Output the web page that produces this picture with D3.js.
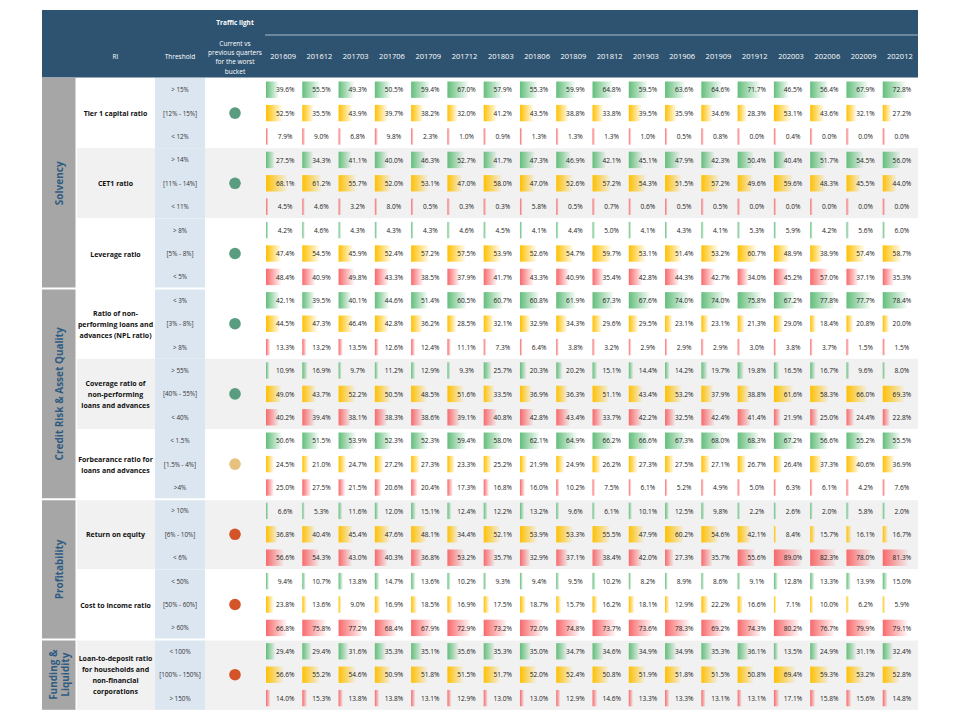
<!DOCTYPE html>
<html>
<head>
<meta charset="utf-8" />
<title>Risk indicators</title>
<script src="https://cdn.jsdelivr.net/npm/d3@7"></script>
<style>
  body { margin: 0; background: #fff; }
  text { font-family: "Open Sans", "Liberation Sans", sans-serif; }
</style>
</head>
<body>
<div id="bg"></div>
<script>
// periods
var periods = ["201609","201612","201703","201706","201709","201712","201803","201806","201809","201812",
  "201903","201906","201909","201912","202003","202006","202009","202012"];

var categories = [
  { name: ["Solvency"], n: 3 },
  { name: ["Credit Risk & Asset Quality"], n: 3 },
  { name: ["Profitability"], n: 2 },
  { name: ["Funding &", "Liquidity"], n: 1 }
];

var indicators = [
  ["Tier 1 capital ratio"],
  ["CET1 ratio"],
  ["Leverage ratio"],
  ["Ratio of non-", "performing loans and", "advances (NPL ratio)"],
  ["Coverage ratio of", "non-performing", "loans and advances"],
  ["Forbearance ratio for", "loans and advances"],
  ["Return on equity"],
  ["Cost to income ratio"],
  ["Loan-to-deposit ratio", "for households and", "non-financial", "corporations"]
];

var thresholds = [
  ["> 15%", "[12% - 15%]", "< 12%"],
  ["> 14%", "[11% - 14%]", "< 11%"],
  ["> 8%", "[5% - 8%]", "< 5%"],
  ["< 3%", "[3% - 8%]", "> 8%"],
  ["> 55%", "[40% - 55%]", "< 40%"],
  ["< 1.5%", "[1.5% - 4%]", ">4%"],
  ["> 10%", "[6% - 10%]", "< 6%"],
  ["< 50%", "[50% - 60%]", "> 60%"],
  ["< 100%", "[100% - 150%]", "> 150%"]
];

var lights = ["green","green","green","green","green","amber","red","red","red"];

// bucket values: [indicator][bucket][period]
var values = [
  [[39.6,55.5,49.3,50.5,59.4,67.0,57.9,55.3,59.9,64.8,59.5,63.6,64.6,71.7,46.5,56.4,67.9,72.8],
   [52.5,35.5,43.9,39.7,38.2,32.0,41.2,43.5,38.8,33.8,39.5,35.9,34.6,28.3,53.1,43.6,32.1,27.2],
   [7.9,9.0,6.8,9.8,2.3,1.0,0.9,1.3,1.3,1.3,1.0,0.5,0.8,0.0,0.4,0.0,0.0,0.0]],
  [[27.5,34.3,41.1,40.0,46.3,52.7,41.7,47.3,46.9,42.1,45.1,47.9,42.3,50.4,40.4,51.7,54.5,56.0],
   [68.1,61.2,55.7,52.0,53.1,47.0,58.0,47.0,52.6,57.2,54.3,51.5,57.2,49.6,59.6,48.3,45.5,44.0],
   [4.5,4.6,3.2,8.0,0.5,0.3,0.3,5.8,0.5,0.7,0.6,0.5,0.5,0.0,0.0,0.0,0.0,0.0]],
  [[4.2,4.6,4.3,4.3,4.3,4.6,4.5,4.1,4.4,5.0,4.1,4.3,4.1,5.3,5.9,4.2,5.6,6.0],
   [47.4,54.5,45.9,52.4,57.2,57.5,53.9,52.6,54.7,59.7,53.1,51.4,53.2,60.7,48.9,38.9,57.4,58.7],
   [48.4,40.9,49.8,43.3,38.5,37.9,41.7,43.3,40.9,35.4,42.8,44.3,42.7,34.0,45.2,57.0,37.1,35.3]],
  [[42.1,39.5,40.1,44.6,51.4,60.5,60.7,60.8,61.9,67.3,67.6,74.0,74.0,75.8,67.2,77.8,77.7,78.4],
   [44.5,47.3,46.4,42.8,36.2,28.5,32.1,32.9,34.3,29.6,29.5,23.1,23.1,21.3,29.0,18.4,20.8,20.0],
   [13.3,13.2,13.5,12.6,12.4,11.1,7.3,6.4,3.8,3.2,2.9,2.9,2.9,3.0,3.8,3.7,1.5,1.5]],
  [[10.9,16.9,9.7,11.2,12.9,9.3,25.7,20.3,20.2,15.1,14.4,14.2,19.7,19.8,16.5,16.7,9.6,8.0],
   [49.0,43.7,52.2,50.5,48.5,51.6,33.5,36.9,36.3,51.1,43.4,53.2,37.9,38.8,61.6,58.3,66.0,69.3],
   [40.2,39.4,38.1,38.3,38.6,39.1,40.8,42.8,43.4,33.7,42.2,32.5,42.4,41.4,21.9,25.0,24.4,22.8]],
  [[50.6,51.5,53.9,52.3,52.3,59.4,58.0,62.1,64.9,66.2,66.6,67.3,68.0,68.3,67.2,56.6,55.2,55.5],
   [24.5,21.0,24.7,27.2,27.3,23.3,25.2,21.9,24.9,26.2,27.3,27.5,27.1,26.7,26.4,37.3,40.6,36.9],
   [25.0,27.5,21.5,20.6,20.4,17.3,16.8,16.0,10.2,7.5,6.1,5.2,4.9,5.0,6.3,6.1,4.2,7.6]],
  [[6.6,5.3,11.6,12.0,15.1,12.4,12.2,13.2,9.6,6.1,10.1,12.5,9.8,2.2,2.6,2.0,5.8,2.0],
   [36.8,40.4,45.4,47.6,48.1,34.4,52.1,53.9,53.3,55.5,47.9,60.2,54.6,42.1,8.4,15.7,16.1,16.7],
   [56.6,54.3,43.0,40.3,36.8,53.2,35.7,32.9,37.1,38.4,42.0,27.3,35.7,55.6,89.0,82.3,78.0,81.3]],
  [[9.4,10.7,13.8,14.7,13.6,10.2,9.3,9.4,9.5,10.2,8.2,8.9,8.6,9.1,12.8,13.3,13.9,15.0],
   [23.8,13.6,9.0,16.9,18.5,16.9,17.5,18.7,15.7,16.2,18.1,12.9,22.2,16.6,7.1,10.0,6.2,5.9],
   [66.8,75.8,77.2,68.4,67.9,72.9,73.2,72.0,74.8,73.7,73.6,78.3,69.2,74.3,80.2,76.7,79.9,79.1]],
  [[29.4,29.4,31.6,35.3,35.1,35.6,35.3,35.0,34.7,34.6,34.9,34.9,35.3,36.1,13.5,24.9,31.1,32.4],
   [56.6,55.2,54.6,50.9,51.8,51.5,51.7,52.0,52.4,50.8,51.9,51.8,51.5,50.8,69.4,59.3,53.2,52.8],
   [14.0,15.3,13.8,13.8,13.1,12.9,13.0,13.0,12.9,14.6,13.3,13.3,13.1,13.1,17.1,15.8,15.6,14.8]]
];

var W = 960, H = 720;
var leftX = 42, rightX = 918, topY = 10, headH = 68;
var rowH = 23.4;
var colCat = [42, 76], colRI = [77, 154], colThr = [155, 205], colTL = [205, 265], dataX = [265, 918];
var bucketColors = ["#63be7b", "#ffc000", "#f8696b"];
var lightColors = { green: "#5a9c80", amber: "#e6c27e", red: "#d4542a" };
var hdr = "#2e5371";

var svg = d3.select("#bg").append("svg").attr("width", W).attr("height", H);
var defs = svg.append("defs");
bucketColors.forEach(function (c, i) {
  var g = defs.append("linearGradient").attr("id", "g" + i).attr("x1", 0).attr("x2", 1);
  g.append("stop").attr("offset", "0%").attr("stop-color", c);
  g.append("stop").attr("offset", "100%").attr("stop-color", c).attr("stop-opacity", 0.05);
});

var x = d3.scaleBand().domain(periods).range(dataX).paddingInner(0);
var y0 = topY + headH;
var y = d3.scaleLinear().domain([0, 27]).range([y0, y0 + 27 * rowH]);
var barW = d3.scaleLinear().domain([0, 100]).range([0, 31]);

// header
svg.append("rect").attr("x", leftX).attr("y", topY).attr("width", rightX - leftX).attr("height", headH).attr("fill", hdr);
svg.append("line").attr("x1", dataX[0]).attr("x2", rightX).attr("y1", topY + 25).attr("y2", topY + 25)
  .attr("stroke", "#fff").attr("stroke-width", 0.6);
svg.append("line").attr("x1", leftX).attr("x2", rightX).attr("y1", y0).attr("y2", y0)
  .attr("stroke", "#fff").attr("stroke-width", 1);
function htext(xx, yy, t, bold, size) {
  svg.append("text").attr("x", xx).attr("y", yy).attr("text-anchor", "middle")
    .attr("font-size", size || 6.5).attr("font-weight", bold ? "bold" : "normal").attr("fill", "#fff").text(t);
}
htext((colRI[0] + colRI[1]) / 2, 59, "RI");
htext((colThr[0] + colThr[1]) / 2, 59, "Threshold");
htext((colTL[0] + colTL[1]) / 2, 25, "Traffic light", true);
["Current vs", "previous quarters", "for the worst", "bucket"].forEach(function (t, i) {
  htext((colTL[0] + colTL[1]) / 2, 46 + i * 9.2, t);
});
periods.forEach(function (p) { htext(x(p) + x.bandwidth() / 2, 59, p, false, 7.5); });

// indicator rows
var shaded = [false, true, false, false, true, false, true, false, true];
indicators.forEach(function (lab, k) {
  var top3 = y(k * 3), h3 = 3 * rowH;
  svg.append("rect").attr("x", colRI[0]).attr("y", top3).attr("width", rightX - colRI[0]).attr("height", h3)
    .attr("fill", shaded[k] ? "#f1f1f1" : "#fff");
  svg.append("rect").attr("x", colThr[0]).attr("y", top3).attr("width", colThr[1] - colThr[0]).attr("height", h3).attr("fill", "#dce6f1");
  var cy = top3 + h3 / 2;
  lab.forEach(function (t, i) {
    svg.append("text").attr("x", (colRI[0] + colRI[1]) / 2).attr("y", cy + (i - (lab.length - 1) / 2) * 11 + 3)
      .attr("text-anchor", "middle").attr("font-size", 7).attr("font-weight", "bold").attr("fill", "#111").text(t);
  });
  svg.append("circle").attr("cx", (colTL[0] + colTL[1]) / 2).attr("cy", cy).attr("r", 5.8)
    .attr("fill", lightColors[lights[k]]);
  thresholds[k].forEach(function (t, b) {
    svg.append("text").attr("x", (colThr[0] + colThr[1]) / 2).attr("y", y(k * 3 + b) + rowH / 2 + 2.5)
      .attr("text-anchor", "middle").attr("font-size", 6.3).attr("fill", "#333").text(t);
  });
  values[k].forEach(function (row, b) {
    var ry = y(k * 3 + b);
    var g = svg.append("g");
    g.selectAll("rect").data(row).join("rect")
      .attr("x", function (d, i) { return x(periods[i]) + 1; })
      .attr("y", ry + 3.5)
      .attr("width", function (d) { return Math.max(2.5, barW(d)); })
      .attr("height", rowH - 7)
      .attr("fill", "url(#g" + b + ")");
    g.selectAll("text").data(row).join("text")
      .attr("x", function (d, i) { return x(periods[i]) + x.bandwidth() / 2 + 2; })
      .attr("y", ry + rowH / 2 + 2.6)
      .attr("text-anchor", "middle").attr("font-size", 6.6).attr("fill", "#222")
      .text(function (d) { return d.toFixed(1) + "%"; });
  });
});

// category column
var start = 0;
categories.forEach(function (c) {
  var yt = y(start * 3), yb = y((start + c.n) * 3);
  svg.append("rect").attr("x", colCat[0]).attr("y", yt).attr("width", colCat[1] - colCat[0]).attr("height", yb - yt).attr("fill", "#a6a6a6");
  var cx = (colCat[0] + colCat[1]) / 2, cy = (yt + yb) / 2;
  c.name.forEach(function (t, i) {
    svg.append("text").attr("transform", "translate(" + (cx + (i - (c.name.length - 1) / 2) * 12 + 4) + "," + cy + ") rotate(-90)")
      .attr("text-anchor", "middle").attr("font-size", 10).attr("font-weight", "bold").attr("fill", "#2f5b82").text(t);
  });
  if (start > 0) {
    svg.append("line").attr("x1", leftX).attr("x2", rightX).attr("y1", yt).attr("y2", yt).attr("stroke", "#fff").attr("stroke-width", 2);
  }
  start += c.n;
});
svg.append("line").attr("x1", colCat[1]).attr("x2", colCat[1]).attr("y1", y0).attr("y2", y(27)).attr("stroke", "#fff").attr("stroke-width", 1);
</script>
</body>
</html>
